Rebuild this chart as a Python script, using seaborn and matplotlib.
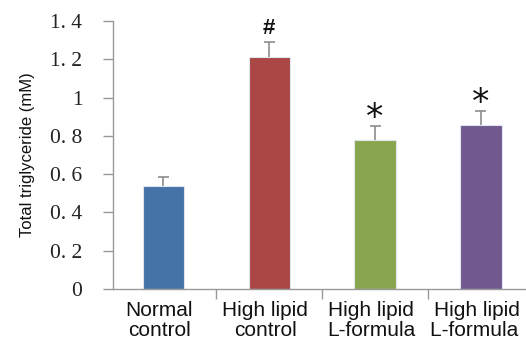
import matplotlib
matplotlib.use("Agg")
import matplotlib.pyplot as plt
import matplotlib.transforms as mtransforms
import seaborn as sns
import pandas as pd

groups = ["Normal\ncontrol", "High lipid\ncontrol", "High lipid\nL-formula", "High lipid\nL-formula "]
means = [0.54, 1.21, 0.78, 0.855]
errors = [0.045, 0.08, 0.073, 0.077]
marks = ["", "#", "*", "*"]
colors = ["#4572A7", "#AA4643", "#89A54E", "#71588F"]
ytick_values = [0, 0.2, 0.4, 0.6, 0.8, 1.0, 1.2, 1.4]
ytick_labels = ["0", "0. 2", "0. 4", "0. 6", "0. 8", "1", "1. 2", "1. 4"]

sns.set_theme(style="white")
plt.rcParams["font.family"] = ["Liberation Sans", "DejaVu Sans"]

df = pd.DataFrame({"group": groups, "value": means})

fig = plt.figure(figsize=(5.26, 3.44), dpi=100)
ax = fig.add_axes([113 / 526, 55 / 344, 1 - 113 / 526, (289 - 21) / 344])

sns.barplot(data=df, x="group", y="value", hue="group", palette=colors,
            width=0.39, errorbar=None, legend=False, ax=ax,
            edgecolor="#dfe6ee", linewidth=0.8, saturation=1, zorder=2)

# upper-only error bars: stem from bar top plus a cap
xs = list(range(len(groups)))
tops = [m + e for m, e in zip(means, errors)]
ax.vlines(xs, means, tops, color="#8c8c8c", linewidth=1.2, zorder=1)
ax.hlines(tops, [x - 0.052 for x in xs], [x + 0.052 for x in xs],
          color="#8c8c8c", linewidth=1.2, zorder=1)

# significance marks above the error bars
for x, t, s in zip(xs, tops, marks):
    if not s:
        continue
    if s == "#":
        ax.text(x, t + 0.07, s, ha="center", va="center", fontsize=16,
                fontweight="bold", color="#111111")
    else:
        ax.text(x, t + 0.04, s, ha="center", va="center", fontsize=25,
                color="#111111", family="DejaVu Sans")

ax.set_xlim(-0.477, 3.426)
ax.set_ylim(0, 1.4)
ax.set_yticks(ytick_values)
ax.set_yticklabels(ytick_labels, family=["Liberation Serif", "DejaVu Serif"],
                   fontsize=15.5, color="#222222")
ax.set_xticks(xs)
ax.set_xticklabels(groups, fontsize=15, color="#111111", linespacing=1.0)
ax.set_xticks([0.5, 1.5, 2.5], minor=True)
ax.tick_params(axis="x", which="major", length=0, pad=9)
ax.tick_params(axis="x", which="minor", length=7, width=1, color="#999999", direction="out", bottom=True)
ax.tick_params(axis="y", length=7, width=1, color="#999999", direction="out", left=True, pad=15)

# nudge category labels slightly left
shift = mtransforms.ScaledTranslation(-4 / 100, 0, fig.dpi_scale_trans)
for lab in ax.get_xticklabels():
    lab.set_transform(lab.get_transform() + shift)

ax.set_xlabel("")
ax.set_ylabel("Total triglyceride (mM)", fontsize=12, color="#111111", labelpad=11)

for side in ["top", "right"]:
    ax.spines[side].set_visible(False)
for side in ["left", "bottom"]:
    ax.spines[side].set_color("#999999")
    ax.spines[side].set_linewidth(1)

fig.savefig("out.png", dpi=100)
